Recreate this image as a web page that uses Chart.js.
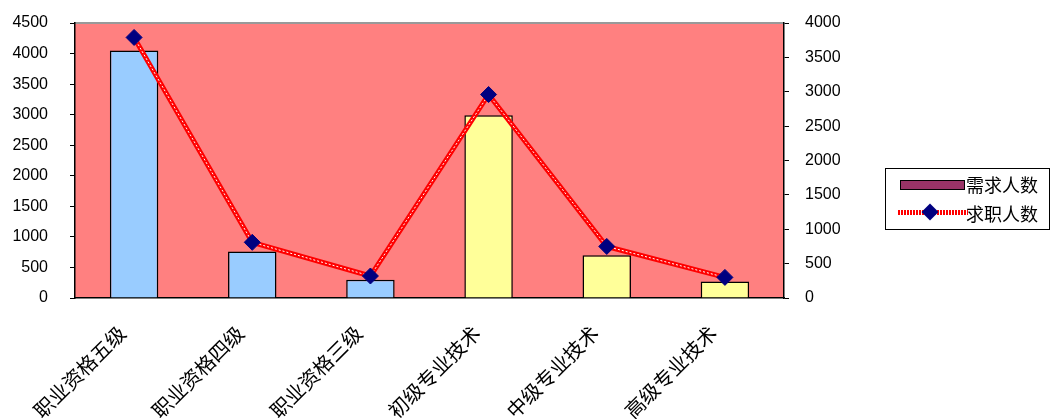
<!DOCTYPE html>
<html>
<head>
<meta charset="utf-8">
<script src="https://cdn.jsdelivr.net/npm/chart.js@4"></script>
<style>
  body { margin: 0; background: #fff; }
  #wrap { position: relative; width: 1054px; height: 419px; }
  #leyenda {
    position: absolute; left: 885px; top: 168px; width: 163px; height: 60px;
    border: 1.5px solid #000; font-family: "Noto Sans CJK SC", sans-serif; font-size: 18px; color: #000;
  }
  .item { position: absolute; left: 8px; height: 24px; line-height: 24px; }
  .sw { position: absolute; left: 6px; top: 8px; width: 63px; height: 8px; background: #993366; border: 1.5px solid #000; }
  .ln { position: absolute; left: 4px; top: 9px; width: 70px; height: 5px; background: repeating-linear-gradient(90deg, #f00 0 2px, #fff 2px 3px); }
  .dm { position: absolute; left: 30px; top: 5px; width: 12px; height: 12px; background: #000080; transform: rotate(45deg); }
  .tx { position: absolute; left: 72px; top: 0; white-space: nowrap; }
</style>
</head>
<body>
<div id="wrap">
  <canvas id="grafico" width="1054" height="419"></canvas>
  <div id="leyenda">
    <div class="item" style="top:3px;width:150px"><div class="sw"></div><span class="tx">需求人数</span></div>
    <div class="item" style="top:32px;width:150px"><div class="ln"></div><div class="dm"></div><span class="tx">求职人数</span></div>
  </div>
</div>
<script>
// Datos
const categorias = ['职业资格五级', '职业资格四级', '职业资格三级', '初级专业技术', '中级专业技术', '高级专业技术'];
const xuqiu = [4050, 760, 300, 2990, 700, 270];     // 需求人数 (eje izq.)
const qiuzhi = [3790, 810, 320, 2960, 750, 300];    // 求职人数 (eje der.)
const coloresBarra = ['#99CCFF', '#99CCFF', '#99CCFF', '#FFFF99', '#FFFF99', '#FFFF99'];

// Fondo del área de trazado
const fondoPlot = {
    id: 'fondoPlot',
    beforeDraw(chart) {
        const a = chart.chartArea, ctx = chart.ctx;
        ctx.save();
        ctx.fillStyle = '#FF8080';
        ctx.fillRect(a.left, a.top, a.right - a.left, a.bottom - a.top);
        ctx.strokeStyle = '#999';
        ctx.lineWidth = 2;
        ctx.beginPath();
        ctx.moveTo(a.left, a.top);
        ctx.lineTo(a.right, a.top);
        ctx.stroke();
        ctx.restore();
    }
};

const fuenteNum = { family: "'Liberation Sans', Arial, sans-serif", size: 16 };
const sinComas = (v) => String(v);
// ancho fijo del eje y sin relleno extra arriba/abajo
const ajustarEje = (ancho) => (s) => { s.width = ancho; s.paddingTop = 0; s.paddingBottom = 0; };

new Chart(document.getElementById('grafico'), {
    type: 'bar',
    data: {
        labels: categorias,
        datasets: [
            {
                type: 'line', data: qiuzhi, yAxisID: 'y1', order: 3,
                borderColor: '#FF0000', borderWidth: 5, pointRadius: 0, tension: 0
            },
            {
                type: 'line', data: qiuzhi, yAxisID: 'y1', order: 2,
                borderColor: '#FFFFFF', borderWidth: 1, borderDash: [2, 2], pointRadius: 0, tension: 0
            },
            {
                type: 'line', data: qiuzhi, yAxisID: 'y1', order: 1, showLine: false,
                pointStyle: 'rectRot', pointRadius: 8, pointBackgroundColor: '#000080', pointBorderColor: '#000080'
            },
            {
                label: '需求人数', data: xuqiu, yAxisID: 'y', order: 4,
                backgroundColor: coloresBarra, borderColor: '#000', borderWidth: 1.5,
                categoryPercentage: 1, barPercentage: 0.41
            }
        ]
    },
    options: {
        responsive: false,
        animation: false,
        layout: { autoPadding: false, padding: { top: 23, right: 205, left: 0, bottom: 0 } },
        plugins: { legend: { display: false }, tooltip: { enabled: false } },
        scales: {
            x: {
                grid: { display: false },
                border: { color: '#000', width: 1.5 },
                ticks: {
                    color: '#000', maxRotation: 45, minRotation: 45, padding: 15, labelOffset: -12,
                    font: { family: "'Noto Sans CJK SC', sans-serif", size: 20 }
                },
                afterFit: (s) => { s.height = 121; }
            },
            y: {
                position: 'left', min: 0, max: 4500,
                grid: { drawOnChartArea: false, color: '#000', tickLength: 5 },
                border: { color: '#000', width: 1.5 },
                ticks: { stepSize: 500, color: '#000', padding: 22, font: fuenteNum, callback: sinComas },
                afterFit: ajustarEje(75)
            },
            y1: {
                position: 'right', min: 0, max: 4000,
                grid: { drawOnChartArea: false, color: '#000', tickLength: 5 },
                border: { color: '#000', width: 1.5 },
                ticks: { stepSize: 500, color: '#000', padding: 16, font: fuenteNum, callback: sinComas },
                afterFit: ajustarEje(65)
            }
        }
    },
    plugins: [fondoPlot]
});
</script>
</body>
</html>
